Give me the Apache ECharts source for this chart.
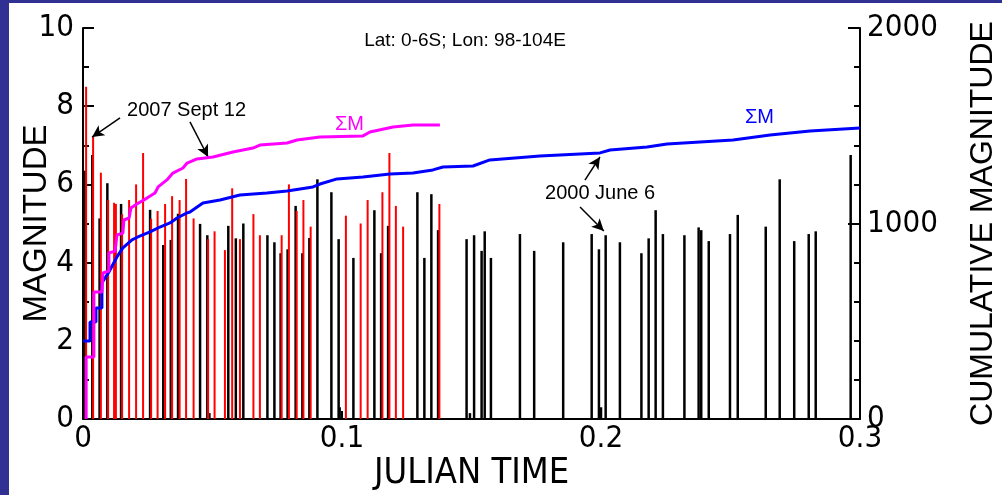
<!DOCTYPE html>
<html>
<head>
<meta charset="utf-8">
<script src="https://cdn.jsdelivr.net/npm/echarts@6/dist/echarts.min.js"></script>
<style>
  html, body { margin: 0; padding: 0; background: #fff; }
  #chart { width: 1002px; height: 495px; }
</style>
</head>
<body>
<div id="chart"></div>
<script>
// 2007 sequence (red bars): julian time and magnitude
const redTime = [0.0012, 0.0039, 0.0069, 0.0097, 0.0120, 0.0127, 0.0151, 0.0178, 0.0205, 0.0232,
  0.0263, 0.0288, 0.0317, 0.0344, 0.0373, 0.0398, 0.0427, 0.0483, 0.0508, 0.0548,
  0.0576, 0.0606, 0.0658, 0.0683, 0.0767, 0.0795, 0.0825, 0.0851, 0.0879, 0.1015,
  0.1072, 0.1099, 0.1156, 0.1183, 0.1208, 0.1236, 0.1376];
const redMag = [8.5, 7.24, 6.3, 5.6, 5.53, 5.5, 5.24, 5.6, 6.0, 6.8,
  5.12, 5.32, 5.5, 5.7, 5.6, 6.14, 5.13, 4.6, 4.8, 4.32,
  5.9, 4.6, 5.24, 4.7, 4.7, 6.0, 5.32, 5.6, 4.92, 5.2,
  5.0, 5.6, 5.8, 6.8, 5.45, 4.92, 5.5];

// 2000 sequence (black bars)
const blackTime = [0.0008, 0.0036, 0.0064, 0.0094, 0.0147, 0.0259, 0.0310, 0.0339, 0.0367, 0.0452,
  0.0480, 0.0488, 0.0561, 0.0590, 0.0619, 0.0712, 0.0739, 0.0763, 0.0790, 0.0821,
  0.0847, 0.0874, 0.0905, 0.0959, 0.0987, 0.0991, 0.1044, 0.1125, 0.1151, 0.1178,
  0.1291, 0.1318, 0.1345, 0.1371, 0.1481, 0.1494, 0.1510, 0.1539, 0.1551, 0.1575,
  0.1687, 0.1742, 0.1854, 0.1964, 0.1992, 0.2000, 0.2018, 0.2073, 0.2156, 0.2184,
  0.2211, 0.2239, 0.2322, 0.2377, 0.2387, 0.2416, 0.2498, 0.2528, 0.2636, 0.2690,
  0.2746, 0.2802, 0.2829, 0.2964];
const blackMag = [6.35, 6.75, 5.13, 6.03, 5.5, 5.35, 4.45, 4.58, 5.25, 4.99,
  4.7, 0.15, 4.94, 4.62, 5.0, 4.7, 4.52, 4.24, 4.34, 5.45,
  4.24, 4.63, 6.13, 5.8, 4.6, 0.3, 4.12, 5.34, 4.24, 4.94,
  5.8, 4.12, 5.75, 4.83, 4.6, 0.15, 4.7, 4.3, 4.8, 4.12,
  4.73, 4.3, 4.52, 4.73, 4.34, 0.3, 4.7, 4.52, 4.24, 4.62,
  5.34, 4.73, 4.7, 4.9, 4.83, 4.55, 4.73, 5.22, 4.92, 6.13,
  4.55, 4.73, 4.8, 6.75];

// Cumulative magnitude, 2007 sequence (magenta)
const sum2007Time = [0.0012, 0.0012, 0.0042, 0.0042, 0.0073, 0.0077, 0.0100, 0.0100, 0.0124, 0.0131,
  0.0154, 0.0158, 0.0178, 0.0185, 0.0208, 0.0247, 0.0278, 0.0290, 0.0324, 0.0347,
  0.0386, 0.0402, 0.0440, 0.0502, 0.0579, 0.0656, 0.0683, 0.0788, 0.0826, 0.0915,
  0.1081, 0.1108, 0.1197, 0.1274, 0.1378];
const sum2007Val = [0, 317, 317, 650, 650, 747, 757, 849, 859, 941,
  951, 1018, 1028, 1079, 1100, 1130, 1156, 1187, 1223, 1258,
  1284, 1309, 1330, 1340, 1366, 1386, 1401, 1412, 1427, 1442,
  1448, 1468, 1494, 1504, 1504];

// Cumulative magnitude, 2000 sequence (blue)
const sum2000Time = [0, 0.0027, 0.0027, 0.0050, 0.0050, 0.0073, 0.0073, 0.0100, 0.0131, 0.0154,
  0.0189, 0.0212, 0.0259, 0.0297, 0.0336, 0.0363, 0.0402, 0.0413, 0.0463, 0.0529,
  0.0606, 0.0710, 0.0788, 0.0888, 0.0915, 0.0981, 0.1081, 0.1185, 0.1274, 0.1351,
  0.1390, 0.1506, 0.1571, 0.1764, 0.1996, 0.2035, 0.2178, 0.2255, 0.2510, 0.2653,
  0.2807, 0.3];
const sum2000Val = [399, 399, 496, 496, 568, 568, 696, 752, 829, 875,
  916, 931, 957, 982, 1003, 1028, 1054, 1059, 1105, 1120,
  1146, 1156, 1166, 1187, 1202, 1228, 1238, 1253, 1258, 1274,
  1289, 1294, 1325, 1345, 1361, 1376, 1391, 1407, 1427, 1453,
  1473, 1488];

const FONT = "'Liberation Sans', Arial, sans-serif";
const NARROW = "'Liberation Sans Narrow', 'DejaVu Sans Condensed', 'Liberation Sans', sans-serif";
const pairs = (xs, ys) => xs.map((x, i) => [x, ys[i]]);

// Thin vertical bar from 0 up to the magnitude at its time
function spike(color, width) {
  return function (params, api) {
    const top = api.coord([api.value(0), api.value(1)]);
    const base = api.coord([api.value(0), 0]);
    return {
      type: 'rect',
      shape: { x: top[0] - width / 2, y: top[1], width: width, height: base[1] - top[1] },
      style: { fill: color }
    };
  };
}

const chart = echarts.init(document.getElementById('chart'), null, { renderer: 'canvas' });

const arrowStyle = { color: '#000', width: 1.5, type: 'solid' };
const arrows = [
  [[0.0143, 7.70], [0.0035, 7.21]],
  [[0.0413, 7.60], [0.0483, 6.70]],
  [[0.1938, 6.11], [0.1996, 6.70]],
  [[0.1919, 5.42], [0.2011, 4.81]]
];

const tickLabel = { fontFamily: NARROW, fontSize: 31, color: '#000' };

chart.setOption({
  animation: false,
  backgroundColor: '#fff',
  grid: { left: 83, right: 142, top: 28, bottom: 76, containLabel: false, outerBoundsMode: 'none' },
  xAxis: {
    type: 'value', min: 0, max: 0.3, interval: 0.1,
    name: 'JULIAN TIME', nameLocation: 'middle', nameGap: 37, nameMoveOverlap: false,
    nameTextStyle: { fontFamily: NARROW, fontSize: 36, color: '#000' },
    axisLine: { show: true, onZero: false, lineStyle: { color: '#000', width: 2 } },
    axisTick: { show: true, inside: true, length: 8, lineStyle: { color: '#000', width: 2 } },
    axisLabel: Object.assign({ margin: 4 }, tickLabel),
    splitLine: { show: false }
  },
  yAxis: [{
    type: 'value', min: 0, max: 10, interval: 2, position: 'left',
    name: 'MAGNITUDE', nameLocation: 'middle', nameRotate: 90, nameGap: 30, nameMoveOverlap: false,
    nameTextStyle: { fontFamily: FONT, fontSize: 33, color: '#000' },
    axisLine: { show: true, onZero: false, lineStyle: { color: '#000', width: 2 } },
    axisTick: { show: true, inside: true, length: 11, lineStyle: { color: '#000', width: 2 } },
    minorTick: { show: true, splitNumber: 2, length: 6, lineStyle: { color: '#000', width: 2 } },
    axisLabel: Object.assign({ margin: 9 }, tickLabel),
    splitLine: { show: false }
  }, {
    type: 'value', min: 0, max: 2000, interval: 1000, position: 'right',
    name: 'CUMULATIVE MAGNITUDE', nameLocation: 'middle', nameRotate: 90, nameGap: 107, nameMoveOverlap: false,
    nameTextStyle: { fontFamily: FONT, fontSize: 32, color: '#000' },
    axisLine: { show: true, onZero: false, lineStyle: { color: '#000', width: 2 } },
    axisTick: { show: true, inside: true, length: 12, lineStyle: { color: '#000', width: 2 } },
    minorTick: { show: true, splitNumber: 5, length: 6, lineStyle: { color: '#000', width: 2 } },
    axisLabel: Object.assign({ margin: 7, formatter: v => String(v) }, tickLabel),
    splitLine: { show: false }
  }],
  series: [
    {
      name: '2000', type: 'custom', xAxisIndex: 0, yAxisIndex: 0,
      data: pairs(blackTime, blackMag), encode: { x: 0, y: 1 },
      renderItem: spike('#000', 2.5), z: 2,
      markLine: {
        silent: true, symbol: ['none', 'arrow'], symbolSize: [9, 12],
        lineStyle: arrowStyle, label: { show: false },
        data: arrows.map(a => [{ coord: a[0] }, { coord: a[1] }])
      }
    },
    {
      name: '2007', type: 'custom', xAxisIndex: 0, yAxisIndex: 0,
      data: pairs(redTime, redMag), encode: { x: 0, y: 1 },
      renderItem: spike('#ff0000', 2), z: 3
    },
    {
      name: 'ΣM 2000', type: 'line', xAxisIndex: 0, yAxisIndex: 1,
      data: pairs(sum2000Time, sum2000Val), showSymbol: false, symbol: 'none',
      lineStyle: { color: '#0000ff', width: 3 }, z: 5
    },
    {
      name: 'ΣM 2007', type: 'line', xAxisIndex: 0, yAxisIndex: 1,
      data: pairs(sum2007Time, sum2007Val), showSymbol: false, symbol: 'none',
      lineStyle: { color: '#ff00ff', width: 3 }, z: 6
    }
  ]
});

// Text annotations anchored in data space (time, magnitude)
const notes = [
  { at: [0.1475, 9.67], text: 'Lat: 0-6S; Lon: 98-104E', size: 19, color: '#000', align: 'center' },
  { at: [0.0170, 7.88], text: '2007 Sept 12', size: 20, color: '#000', align: 'left' },
  { at: [0.0973, 7.54], text: 'ΣM', size: 20, color: '#ff00ff', align: 'left' },
  { at: [0.2556, 7.70], text: 'ΣM', size: 20, color: '#0000ff', align: 'left' },
  { at: [0.1784, 5.78], text: '2000 June 6', size: 20, color: '#000', align: 'left' }
];
const graphics = notes.map(n => {
  const p = chart.convertToPixel({ xAxisIndex: 0, yAxisIndex: 0 }, n.at);
  return {
    type: 'text', x: p[0], y: p[1], z: 20,
    style: { text: n.text, fill: n.color, font: n.size + 'px ' + FONT, textAlign: n.align, textVerticalAlign: 'middle' }
  };
});
// Page frame
graphics.push({ type: 'rect', shape: { x: 0, y: 0, width: 9, height: 495 }, style: { fill: '#313194' }, z: 30 });
graphics.push({ type: 'rect', shape: { x: 0, y: 0, width: 1002, height: 3 }, style: { fill: '#313194' }, z: 30 });
chart.setOption({ graphic: graphics });
</script>
</body>
</html>
